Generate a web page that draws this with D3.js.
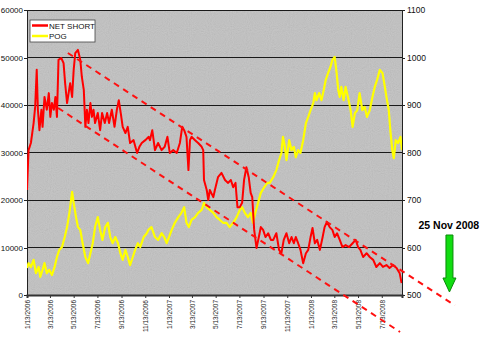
<!DOCTYPE html>
<html>
<head>
<meta charset="utf-8">
<script src="https://cdn.jsdelivr.net/npm/d3@7"></script>
<style>
  body { margin: 0; background: #fff; }
  svg { display: block; font-family: Arial, "Liberation Sans", sans-serif; }
</style>
</head>
<body>
<svg id="chart"></svg>
<script>
// days counted from 1/13/2006
const netShortDays = [0,4,10,17,21,25,28,32,37,40,45,51,56,60,64,69,73,77,81,88,94,98,103,107,111,116,120,124,131,137,141,146,150,154,158,163,167,171,175,182,188,193,200,206,211,218,225,231,236,241,246,253,259,265,274,283,289,295,304,313,316,322,329,337,346,354,361,367,376,385,393,399,404,410,415,419,423,432,440,449,453,455,462,466,470,479,483,491,500,509,517,524,530,536,541,547,553,558,564,570,575,579,584,590,596,601,607,613,620,627,633,641,648,654,660,667,674,680,686,691,697,703,710,717,723,729,734,740,746,753,760,765,771,778,785,791,797,804,811,819,828,837,845,851,857,864,873,881,890,898,907,915,924,932,941,950,958,963];
const netShort = [22100,30500,32000,36200,39600,47400,39000,34700,39000,35400,41700,39000,42500,37500,40400,39000,41700,37500,49500,49900,48800,44600,40400,42500,44600,41700,47400,50900,51600,49500,45900,43200,35400,39000,36200,40400,37500,39000,36200,38300,34700,38300,36200,38300,36200,39000,35400,39000,41000,38300,35400,34100,35400,32000,32600,29900,31200,32000,32600,33300,32600,34700,30500,32000,30500,31200,33300,29900,30500,29900,32000,35400,34700,33300,26300,32600,33300,32600,32000,31200,30500,24200,22100,20000,22100,20600,22100,24800,25700,24200,23600,24200,22700,23600,18500,18500,19400,24200,26900,24800,21500,20600,13700,9900,12200,14300,13700,12200,13000,11600,11600,13000,9500,8800,11600,13000,10900,12200,10900,12200,10900,9500,6700,8800,9500,12200,14100,10900,11600,9500,12200,14300,15400,14300,13700,12200,13000,11600,10100,10500,10100,10900,11600,10100,9500,8000,8800,8000,7400,5900,6700,5900,6300,5700,6300,5700,4600,2500];

const pogDays = [0,4,10,17,23,30,34,40,45,51,57,64,71,77,83,90,97,103,109,116,120,126,131,137,143,150,157,163,169,175,182,188,194,201,208,214,220,227,234,240,246,253,259,265,272,278,285,291,300,308,312,320,329,337,346,353,359,365,372,380,389,397,404,410,416,423,432,440,449,455,462,470,479,487,496,504,513,521,530,539,547,553,560,568,575,581,587,594,601,610,618,624,633,641,648,654,658,663,667,674,680,686,691,697,703,710,717,723,729,736,740,744,751,757,763,768,774,780,785,791,796,800,804,808,814,819,825,832,837,843,849,855,862,868,874,881,888,894,900,907,914,920,924,930,934,939,943,948,954,960,964];
const pog = [557,567,559,574,546,559,538,553,567,546,553,542,559,580,595,601,622,643,673,717,694,664,643,637,609,580,567,588,609,643,664,637,616,643,652,622,609,622,609,588,574,595,580,563,580,595,609,601,622,630,637,643,622,616,630,622,609,622,637,652,664,673,685,652,643,658,664,673,679,694,685,679,673,664,658,652,652,643,652,664,679,685,673,664,673,652,673,694,715,727,736,736,748,763,784,799,833,812,784,826,805,812,790,805,799,826,862,875,889,904,925,910,925,910,932,953,967,980,995,1001,967,932,917,938,910,938,917,889,854,883,889,925,889,896,875,889,917,938,953,974,967,938,917,889,847,805,788,826,820,833,805];

// hand drawn channel: [day, net short]
const upperTrend = [[105, 50950], [1100, -2200]];
const lowerTrend = [[80, 39370], [959, -7790]];

const xTickLabels = ["1/13/2006","3/13/2006","5/13/2006","7/13/2006","9/13/2006","11/13/2006","1/13/2007","3/13/2007","5/13/2007","7/13/2007","9/13/2007","11/13/2007","1/13/2008","3/13/2008","5/13/2008","7/13/2008"];
const leftTicks = [0,10000,20000,30000,40000,50000,60000];
const rightTicks = [500,600,700,800,900,1000,1100];
const seriesNames = ["NET SHORT","POG"];
const arrowDay = 1086;
const arrowLabel = "25 Nov 2008";

let width = 481, height = 353;
let margin = { top: 10, right: 79, bottom: 58, left: 27 };

let svg = d3.select('#chart').attr('width', width).attr('height', height);

let start = new Date(Date.UTC(2006, 0, 13));
let dayToDate = d => d3.utcDay.offset(start, d);
let parseTick = d3.utcParse("%m/%d/%Y");

let x = d3.scaleUtc()
  .domain([start, dayToDate(964)])
  .range([margin.left, width - margin.right]);
let yLeft = d3.scaleLinear().domain([0, 60000]).range([height - margin.bottom, margin.top]);
let yRight = d3.scaleLinear().domain([500, 1100]).range([height - margin.bottom, margin.top]);

let plotW = width - margin.right - margin.left;
let plotH = height - margin.bottom - margin.top;

// grey plot area with a bit of speckle
let defs = svg.append('defs');
let f = defs.append('filter').attr('id', 'noise').attr('x', 0).attr('y', 0).attr('width', 1).attr('height', 1);
f.append('feTurbulence').attr('type', 'fractalNoise').attr('baseFrequency', 0.95).attr('numOctaves', 1).attr('seed', 3);
f.append('feColorMatrix').attr('type', 'matrix')
  .attr('values', '0.33 0.33 0.33 0 0  0.33 0.33 0.33 0 0  0.33 0.33 0.33 0 0  0 0 0 0 1');
defs.append('clipPath').attr('id', 'plotClip').append('rect')
  .attr('x', margin.left).attr('y', margin.top).attr('width', plotW).attr('height', plotH);

svg.append('rect')
  .attr('x', margin.left).attr('y', margin.top)
  .attr('width', plotW).attr('height', plotH)
  .attr('fill', '#c2c2c2');
svg.append('rect')
  .attr('x', margin.left).attr('y', margin.top)
  .attr('width', plotW).attr('height', plotH)
  .attr('filter', 'url(#noise)')
  .attr('opacity', 0.18);

// gridlines
svg.append('g')
  .selectAll('line')
  .data(leftTicks.slice(1))
  .enter().append('line')
  .attr('x1', margin.left).attr('x2', width - margin.right)
  .attr('y1', d => yLeft(d)).attr('y2', d => yLeft(d))
  .attr('stroke', '#1a1a1a').attr('stroke-width', 1)
  .attr('shape-rendering', 'crispEdges');

// axes
let leftAxis = d3.axisLeft(yLeft).tickValues(leftTicks).tickSize(3).tickFormat(d3.format('d'));
svg.append('g')
  .attr('transform', `translate(${margin.left},0)`)
  .call(leftAxis)
  .call(g => g.selectAll('text').attr('font-size', 8).attr('fill', '#111').attr('x', -4))
  .call(g => g.selectAll('path,line').attr('stroke', '#222').attr('shape-rendering', 'crispEdges'));

let rightAxis = d3.axisRight(yRight).tickValues(rightTicks).tickSize(3).tickFormat(d3.format('d'));
svg.append('g')
  .attr('transform', `translate(${width - margin.right},0)`)
  .call(rightAxis)
  .call(g => g.selectAll('text').attr('font-size', 8.5).attr('fill', '#111').attr('x', 5))
  .call(g => g.selectAll('path,line').attr('stroke', '#222').attr('shape-rendering', 'crispEdges'));

let bottomAxis = d3.axisBottom(x)
  .tickValues(xTickLabels.map(parseTick))
  .tickSize(3)
  .tickFormat(d3.utcFormat("%-m/%-d/%Y"));
svg.append('g')
  .attr('transform', `translate(0,${height - margin.bottom})`)
  .call(bottomAxis)
  .call(g => g.select('.domain').attr('stroke', '#333').attr('stroke-width', 2))
  .call(g => g.selectAll('line').attr('stroke', '#333'))
  .call(g => g.selectAll('text')
    .attr('font-size', 6.5)
    .attr('fill', '#222')
    .attr('text-anchor', 'end')
    .attr('dy', '0.35em')
    .attr('transform', 'rotate(-90)')
    .attr('x', -5)
    .attr('y', 0));

// series
let lineNet = d3.line()
  .x((d, i) => x(dayToDate(netShortDays[i])))
  .y(d => yLeft(d));
let linePog = d3.line()
  .x((d, i) => x(dayToDate(pogDays[i])))
  .y(d => yRight(d));

let plot = svg.append('g').attr('clip-path', 'url(#plotClip)');
plot.append('path')
  .datum(pog)
  .attr('d', linePog)
  .attr('fill', 'none')
  .attr('stroke', '#ffff00')
  .attr('stroke-width', 2.2)
  .attr('stroke-linejoin', 'round');
plot.append('path')
  .datum(netShort)
  .attr('d', lineNet)
  .attr('fill', 'none')
  .attr('stroke', '#ff0000')
  .attr('stroke-width', 2)
  .attr('stroke-linejoin', 'round');

// channel lines (not clipped, they run past the axis)
let trend = d3.line()
  .x(d => x(dayToDate(d[0])))
  .y(d => yLeft(d[1]));
svg.selectAll('.trend')
  .data([upperTrend, lowerTrend])
  .enter().append('path')
  .attr('class', 'trend')
  .attr('d', trend)
  .attr('fill', 'none')
  .attr('stroke', '#ff1010')
  .attr('stroke-width', 2)
  .attr('stroke-dasharray', '6,5');

// legend
let legend = svg.append('g').attr('transform', 'translate(30,20)');
legend.append('rect')
  .attr('width', 65).attr('height', 22)
  .attr('fill', '#fff').attr('stroke', '#444').attr('stroke-width', 0.8);
let legendColors = ['#ff0000', '#ffff00'];
seriesNames.forEach((name, i) => {
  let row = legend.append('g').attr('transform', `translate(0,${5.5 + i * 10.5})`);
  row.append('line')
    .attr('x1', 2).attr('x2', 18)
    .attr('stroke', legendColors[i]).attr('stroke-width', 2.5);
  row.append('text')
    .attr('x', 19).attr('y', 3)
    .attr('font-size', 8).attr('fill', '#111')
    .text(name);
});

// green arrow + date
let ax = x(dayToDate(arrowDay));
let arrowPts = [[-3.5, 235], [3.5, 235], [3.5, 278], [6.5, 278], [0, 292], [-6.5, 278], [-3.5, 278]];
svg.append('path')
  .attr('d', d3.line().x(d => ax + d[0]).y(d => d[1])(arrowPts) + 'Z')
  .attr('fill', '#11dd11')
  .attr('stroke', '#0a8a0a')
  .attr('stroke-width', 1);
svg.append('text')
  .attr('x', ax - 31).attr('y', 229)
  .attr('font-size', 10.5).attr('font-weight', 'bold').attr('fill', '#000')
  .text(arrowLabel);
</script>
</body>
</html>
